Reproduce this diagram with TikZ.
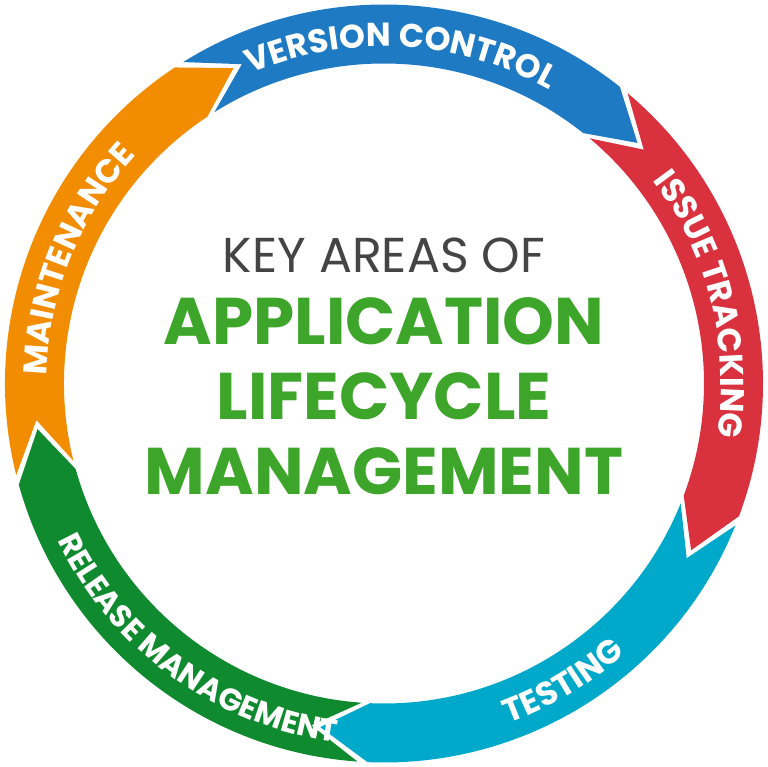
\documentclass[tikz,border=0pt]{standalone}
\usepackage{fontspec}
\setmainfont{Poppins}
\usetikzlibrary{decorations.text}
\definecolor{cblue}{HTML}{1F7AC4}
\definecolor{cred}{HTML}{D9313E}
\definecolor{ccyan}{HTML}{00A9C9}
\definecolor{cgreen}{HTML}{0F8A2E}
\definecolor{corange}{HTML}{F28C00}
\definecolor{cgtext}{HTML}{3DA52A}
\definecolor{cgray}{HTML}{444444}
\begin{document}
\begin{tikzpicture}[x=1pt,y=1pt]
\useasboundingbox (-384,-383.5) rectangle (384,383.5);
\def\Ro{379}\def\Ri{320}\def\Rm{349.5}
\foreach \a/\c in {122/cblue,50/cred,-22/ccyan,-94/cgreen,-166/corange}{
  \pgfmathsetmacro{\e}{\a-70.5}
  \pgfmathsetmacro{\an}{\a-8}
  \pgfmathsetmacro{\en}{\e-8}
  \fill[\c] (\a:\Ri) -- (\an:\Rm) -- (\a:\Ro) arc[start angle=\a, end angle=\e, radius=\Ro]
    -- (\en:\Rm) -- (\e:\Ri) arc[start angle=\e, end angle=\a, radius=\Ri] -- cycle;
}
\def\tf{\fontsize{33}{33}\selectfont\bfseries}
\def\tfs{\fontsize{31}{31}\selectfont\bfseries}
\foreach \m/\t in {87/VERSION CONTROL,14/ISSUE TRACKING,158/MAINTENANCE}{
  \path[decorate,decoration={text along path,text align=center,text color=white,
     text={|\tf|\t}}] (\m+36:337) arc[start angle=\m+36, end angle=\m-36, radius=337];
}
\path[decorate,decoration={text along path,text align=center,text color=white,
   text={|\tf|TESTING}}] (-95:362) arc[start angle=-95, end angle=-23, radius=362];
\path[decorate,decoration={text along path,text align=center,text color=white,
   text={|\tfs|RELEASE MANAGEMENT}}] (-162:362) arc[start angle=-162, end angle=-90, radius=362];
\node[text=cgray,font=\fontsize{49}{49}\selectfont] (k) at (0,128) {KEY AREAS OF};
\node[text=cgtext,font=\fontsize{66}{66}\selectfont\bfseries] (l1) at (0,62) {APPLICATION};
\node[text=cgtext,font=\fontsize{66}{66}\selectfont\bfseries] (l2) at (0,-13) {LIFECYCLE};
\node[text=cgtext,font=\fontsize{66}{66}\selectfont\bfseries] (l3) at (0,-88) {MANAGEMENT};
\end{tikzpicture}
\end{document}
